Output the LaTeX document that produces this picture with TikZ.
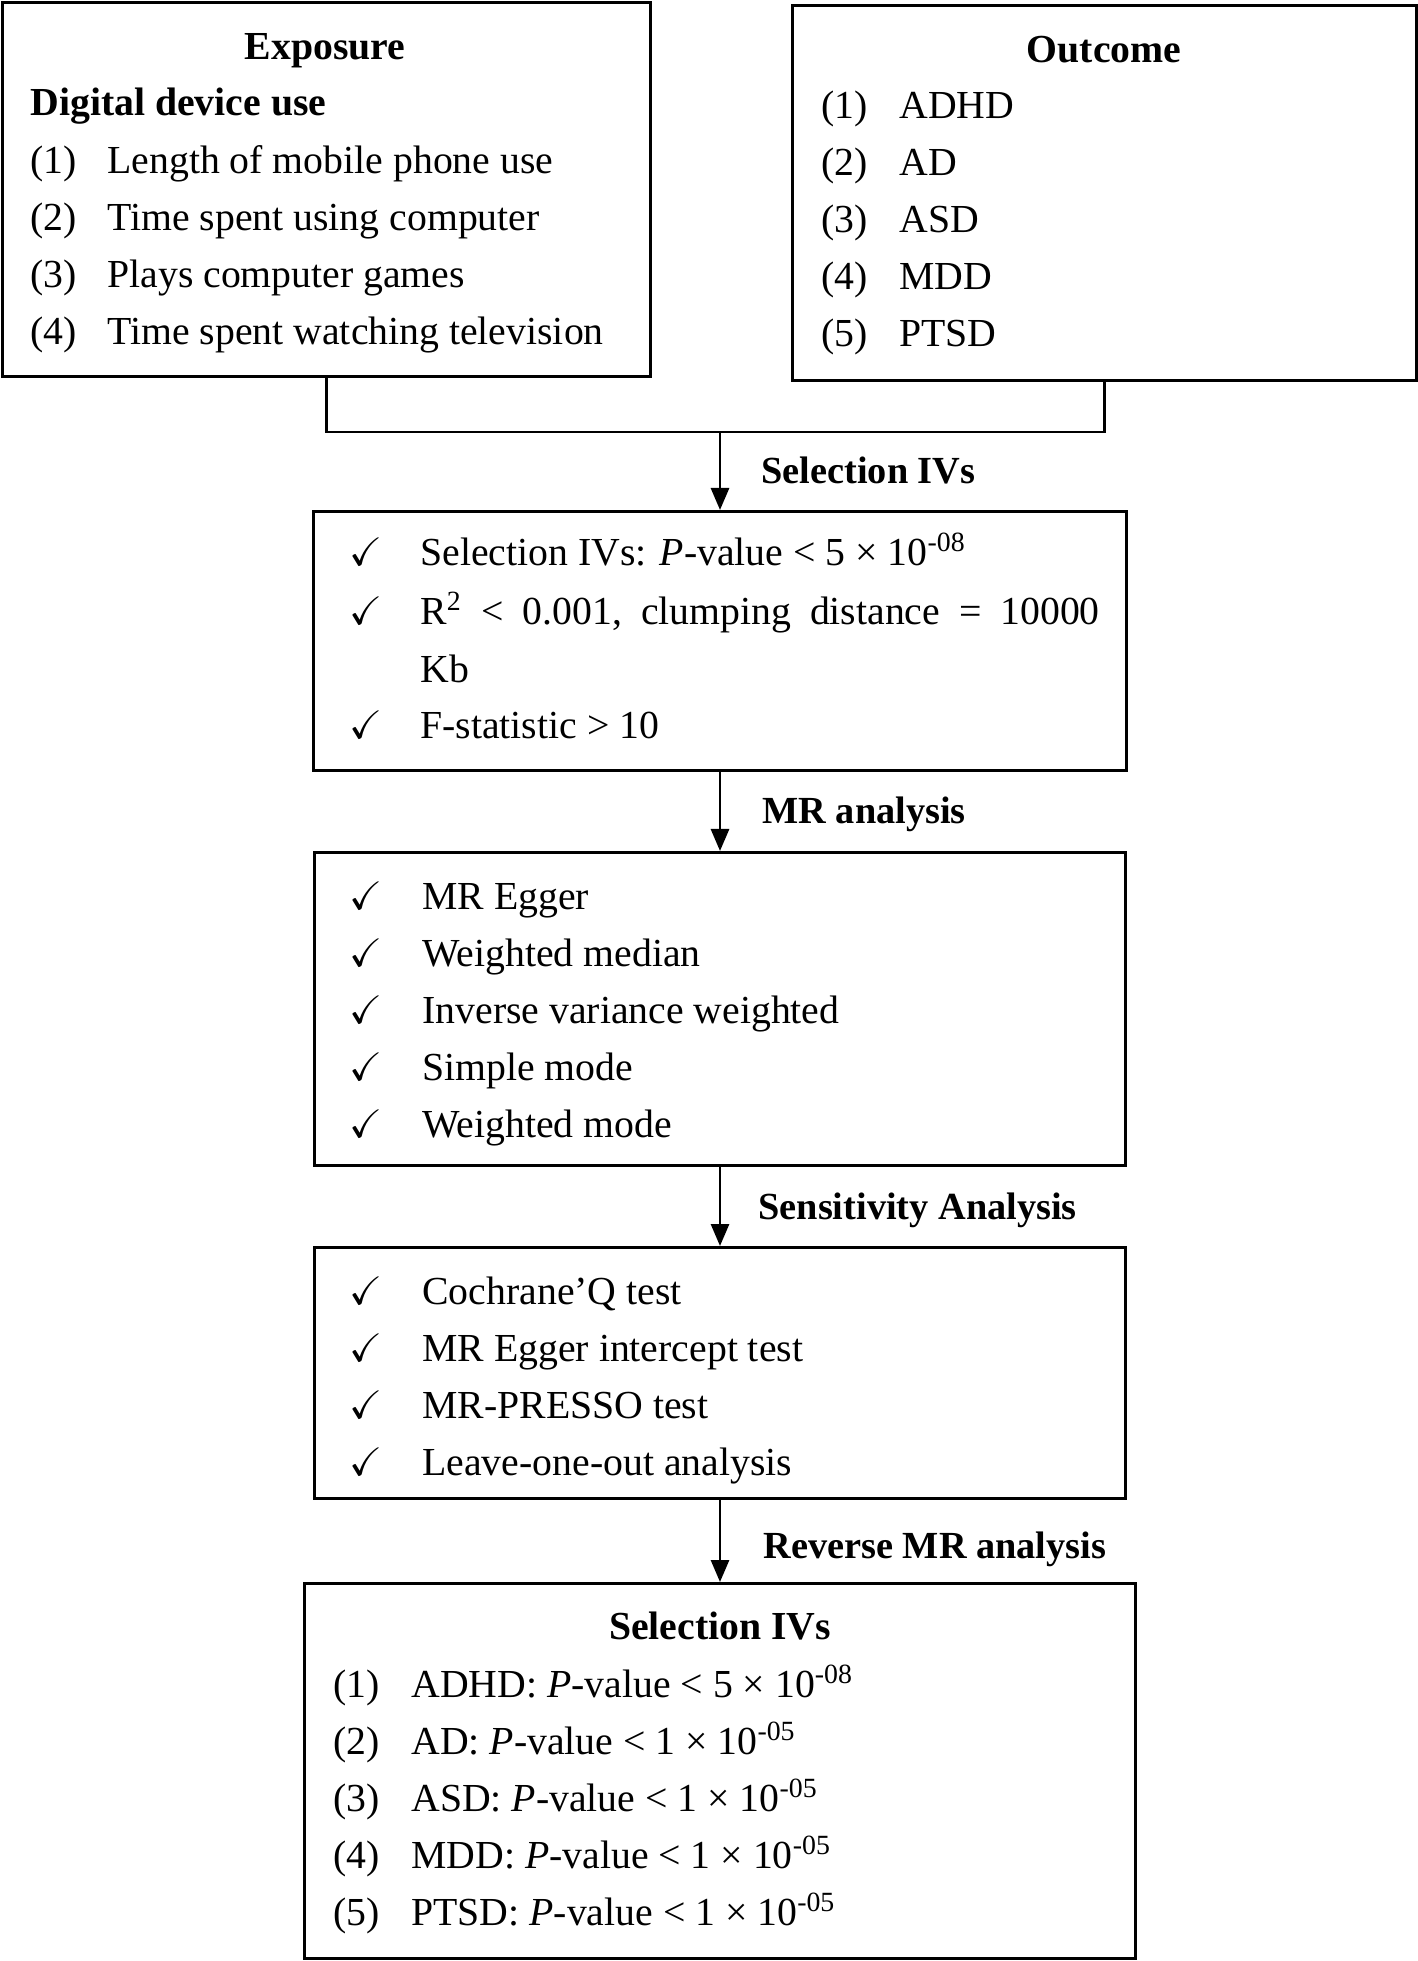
\documentclass[tikz,border=0pt]{standalone}
\usepackage{fontspec}
\setmainfont{Liberation Serif}
\usepackage{amssymb}
\usetikzlibrary{arrows.meta}
\usetikzlibrary{positioning}

\begin{document}
\begin{tikzpicture}[x=0.01cm,y=-0.01cm,line width=0.8pt,
        font=\fontsize{11.3}{13.5}\selectfont,
        box/.style={shape=rectangle,draw=black,inner sep=0pt,anchor=north},
        txt/.style={inner sep=0pt,anchor=mid west,yshift=-0.05cm},
        head/.style={inner sep=0pt,anchor=mid,yshift=-0.05cm,font=\fontsize{11.3}{13.5}\selectfont\bfseries},
        lab/.style={inner sep=0pt,anchor=mid west,yshift=-0.05cm,font=\fontsize{10.9}{13}\selectfont\bfseries},
        flow/.style={-{Triangle[length=0.22cm,width=0.18cm]}}]

            \useasboundingbox (0,0) rectangle (1417,1961);

            % Boxes
            \node[box,anchor=north west,minimum width=6.48cm,minimum height=3.74cm] (expo) at (1,1) {};
            \node[box,anchor=north west,minimum width=6.24cm,minimum height=3.75cm] (outc) at (791,4) {};
            \node[box,minimum width=8.12cm,minimum height=2.59cm] (sel) at (720,510) {};
            \node[box,minimum width=8.11cm,minimum height=3.13cm] (mr) at (720,851) {};
            \node[box,minimum width=8.11cm,minimum height=2.51cm] (sens) at (720,1246) {};
            \node[box,minimum width=8.31cm,minimum height=3.75cm] (rev) at (720,1582) {};

            % Exposure
            \node[head] (expoT) at (325,46) {Exposure};
            \node[txt,font=\fontsize{11.3}{13.5}\selectfont\bfseries] (expoS) at (29,102) {Digital device use};
            \foreach \t [count=\i] in {Length of mobile phone use,Time spent using computer,
                    Plays computer games,Time spent watching television}{
                \node[txt] (en\i) at (29,{160+57*(\i-1)}) {(\i)};
                \node[txt] (et\i) at (106,{160+57*(\i-1)}) {\t};
            }

            % Outcome
            \node[head] (outcT) at (1104,49) {Outcome};
            \foreach \t [count=\i] in {ADHD,AD,ASD,MDD,PTSD}{
                \node[txt] (on\i) at (820,{105+57*(\i-1)}) {(\i)};
                \node[txt] (ot\i) at (898,{105+57*(\i-1)}) {\t};
            }

            % Selection of IVs
            \node[txt] (sc1) at (348,552) {$\checkmark$};
            \node[txt] (sc2) at (348,611) {$\checkmark$};
            \node[txt] (sc3) at (348,725) {$\checkmark$};
            \node[txt] (st1) at (419,552) {Selection IVs: \textit{P}-value < 5 × 10\textsuperscript{-08}};
            \node[txt] (st2) at (419,611) {\hbox to 6.79cm{R\textsuperscript{2}\hfill<\hfill0.001,\hfill clumping\hfill distance\hfill=\hfill10000}};
            \node[txt] (st3) at (419,669) {Kb};
            \node[txt] (st4) at (419,725) {F-statistic > 10};

            % MR methods
            \foreach \t [count=\i] in {MR Egger,Weighted median,Inverse variance weighted,
                    Simple mode,Weighted mode}{
                \node[txt] (mc\i) at (348,{896+57*(\i-1)}) {$\checkmark$};
                \node[txt] (mt\i) at (421,{896+57*(\i-1)}) {\t};
            }

            % Sensitivity tests
            \foreach \t [count=\i] in {Cochrane’Q test,MR Egger intercept test,MR-PRESSO test,
                    Leave-one-out analysis}{
                \node[txt] (sn\i) at (348,{1291+57*(\i-1)}) {$\checkmark$};
                \node[txt] (sm\i) at (421,{1291+57*(\i-1)}) {\t};
            }

            % Reverse MR
            \node[head] (revT) at (720,1626) {Selection IVs};
            \foreach \t/\v [count=\i] in {ADHD/5 × 10\textsuperscript{-08},AD/1 × 10\textsuperscript{-05},
                    ASD/1 × 10\textsuperscript{-05},MDD/1 × 10\textsuperscript{-05},PTSD/1 × 10\textsuperscript{-05}}{
                \node[txt] (rn\i) at (332,{1684+57*(\i-1)}) {(\i)};
                \node[txt] (rt\i) at (410,{1684+57*(\i-1)}) {\t: \textit{P}-value < \v};
            }

            % Connectors
            \coordinate (join) at (720,432);
            \draw (expo.south) |- (join) -| (outc.south);
            \draw[flow] (join) -- (sel.north);
            \draw[flow] (sel.south) -- (mr.north);
            \draw[flow] (mr.south) -- (sens.north);
            \draw[flow] (sens.south) -- (rev.north);

            % Step labels
            \node[lab] (l1) at (760,470) {Selection IVs};
            \node[lab] (l2) at (761,810) {MR analysis};
            \node[lab] (l3) at (757,1206) {Sensitivity Analysis};
            \node[lab] (l4) at (762,1545) {Reverse MR analysis};

        \end{tikzpicture}
\end{document}
